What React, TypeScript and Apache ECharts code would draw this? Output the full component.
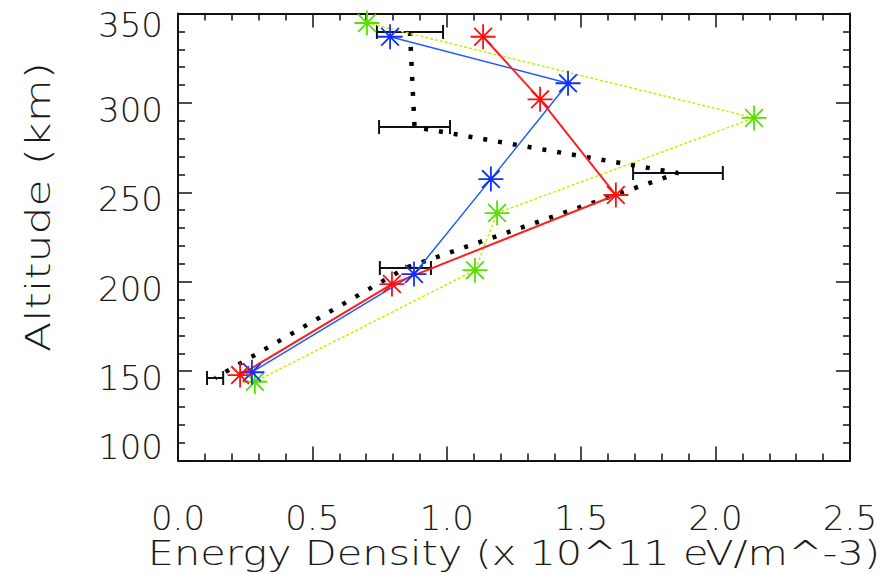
import React, { useEffect, useRef } from "react";
import * as echarts from "echarts";

// Energy density (x 10^11 eV/m^-3) vs altitude (km)
const xTickLabels = ["0.0", "0.5", "1.0", "1.5", "2.0", "2.5"];
const yTickValues = [100, 150, 200, 250, 300, 350];

const redEnergy = [1.135, 1.347, 1.629, 0.796, 0.231];
const redAlt = [337, 302, 248.5, 198.7, 147.8];

const blueEnergy = [0.789, 1.451, 1.164, 0.878, 0.275];
const blueAlt = [337, 311, 257.4, 204.3, 149.4];

const greenEnergy = [0.703, 2.143, 1.187, 1.105, 0.286];
const greenAlt = [344.7, 291.6, 238.4, 206.5, 144.1];

const obsEnergy = [0.863, 0.88, 1.86, 0.846, 0.138];
const obsAlt = [339.7, 286.5, 260.8, 207.7, 146.2];
const obsErr = [0.123, 0.132, 0.167, 0.095, 0.03];

const FONT = "DejaVu Sans";
const TXT = "#1a1a1a";
const STAR =
  "path://M0,-12 L0,12 M-12,0 L12,0 M-8.5,-8.5 L8.5,8.5 M-8.5,8.5 L8.5,-8.5";

function pairs(xs: number[], ys: number[]) {
  return xs.map((x, i) => [x, ys[i]]);
}

export default function App() {
  const ref = useRef<HTMLDivElement>(null);
  useEffect(() => {
    if (!ref.current) return;
    const chart = echarts.init(ref.current, null, { renderer: "svg" });
    const axisCommon = {
      type: "value" as const,
      axisLine: { show: true, onZero: false, lineStyle: { color: "#111", width: 2 } },
      axisTick: { show: true, inside: true, length: 14, lineStyle: { color: "#111", width: 1.5 } },
      minorTick: { show: true, splitNumber: 5, length: 7, lineStyle: { color: "#111", width: 1.5 } },
      splitLine: { show: false },
      minorSplitLine: { show: false },
    };
    const labelStyle = { fontFamily: FONT, fontSize: 34, color: TXT, fontWeight: 200 as any };
    const starSeries = (name: string, xs: number[], ys: number[], lineColor: string, markColor: string, lineType: any, width: number) => ({
      name,
      type: "line",
      xAxisIndex: 0,
      yAxisIndex: 0,
      data: pairs(xs, ys),
      symbol: STAR,
      symbolSize: 25,
      showSymbol: true,
      lineStyle: { color: lineColor, width, type: lineType },
      itemStyle: { color: "none", borderColor: markColor, borderWidth: 1.8 },
      z: 3,
    });
    chart.setOption({
      animation: false,
      backgroundColor: "#ffffff",
      grid: { left: 178, top: 13.5, right: 34, bottom: 113.4 },
      xAxis: [
        {
          ...axisCommon,
          position: "bottom",
          min: 0,
          max: 2.5,
          interval: 0.5,
          axisLabel: {
            ...labelStyle,
            margin: 40,
            formatter: (v: number) => xTickLabels[Math.round(v / 0.5)] ?? String(v),
          },
        },
        {
          ...axisCommon,
          position: "top",
          min: 0,
          max: 2.5,
          interval: 0.5,
          axisLabel: { show: false },
        },
      ],
      yAxis: [
        {
          ...axisCommon,
          position: "left",
          min: yTickValues[0],
          max: yTickValues[yTickValues.length - 1],
          interval: 50,
          axisLabel: {
            ...labelStyle,
            margin: 15,
            formatter: (v: number) =>
              v === 350 ? `{t|${v}}` : v === 100 ? `{b|${v}}` : `{m|${v}}`,
            rich: {
              t: { ...labelStyle, padding: [23, 0, 0, 0] },
              m: { ...labelStyle, padding: [14, 0, 0, 0] },
              b: { ...labelStyle, padding: [0, 0, 27, 0] },
            },
          },
        },
        {
          ...axisCommon,
          position: "right",
          min: 100,
          max: 350,
          interval: 50,
          axisLabel: { show: false },
        },
      ],
      graphic: [
        {
          type: "text",
          x: 38,
          y: 207,
          rotation: Math.PI / 2,
          scaleX: 1.3,
          style: {
            text: "Altitude (km)",
            fontFamily: FONT,
            fontSize: 34,
            fontWeight: 200,
            fill: TXT,
            align: "center",
            verticalAlign: "middle",
          },
        },
        {
          type: "text",
          x: 514,
          y: 553,
          scaleX: 1.22,
          style: {
            text: "Energy Density (x 10^11 eV/m^-3)",
            fontFamily: FONT,
            fontSize: 34,
            fontWeight: 200,
            fill: TXT,
            align: "center",
            verticalAlign: "middle",
          },
        },
      ],
      series: [
        {
          name: "Observed",
          type: "line",
          xAxisIndex: 0,
          yAxisIndex: 0,
          data: pairs(obsEnergy, obsAlt),
          symbol: "none",
          lineStyle: { color: "#000", width: 4.5, type: [4, 11], cap: "butt" },
          z: 2,
        },
        {
          name: "Observed error",
          type: "custom",
          xAxisIndex: 0,
          yAxisIndex: 0,
          data: obsEnergy.map((x, i) => [x, obsAlt[i], obsErr[i]]),
          encode: { x: 0, y: 1 },
          renderItem: (params: any, api: any) => {
            const x = api.value(0);
            const y = api.value(1);
            const e = api.value(2);
            const l = api.coord([x - e, y]);
            const r = api.coord([x + e, y]);
            const st = { stroke: "#111", lineWidth: 2 };
            return {
              type: "group",
              children: [
                { type: "line", shape: { x1: l[0], y1: l[1], x2: r[0], y2: r[1] }, style: st },
                { type: "line", shape: { x1: l[0], y1: l[1] - 7, x2: l[0], y2: l[1] + 7 }, style: st },
                { type: "line", shape: { x1: r[0], y1: r[1] - 7, x2: r[0], y2: r[1] + 7 }, style: st },
              ],
            };
          },
          z: 2,
        },
        starSeries("Green", greenEnergy, greenAlt, "#c8ee00", "#55e000", [3, 2], 1.5),
        starSeries("Blue", blueEnergy, blueAlt, "#1f5bff", "#1030ff", "solid", 1.5),
        starSeries("Red", redEnergy, redAlt, "#ff2020", "#ff1010", "solid", 2),
      ],
    });
    return () => chart.dispose();
  }, []);
  return (
    <div
      ref={ref}
      style={{ position: "absolute", left: 0, top: 0, width: 884, height: 574 }}
    />
  );
}
